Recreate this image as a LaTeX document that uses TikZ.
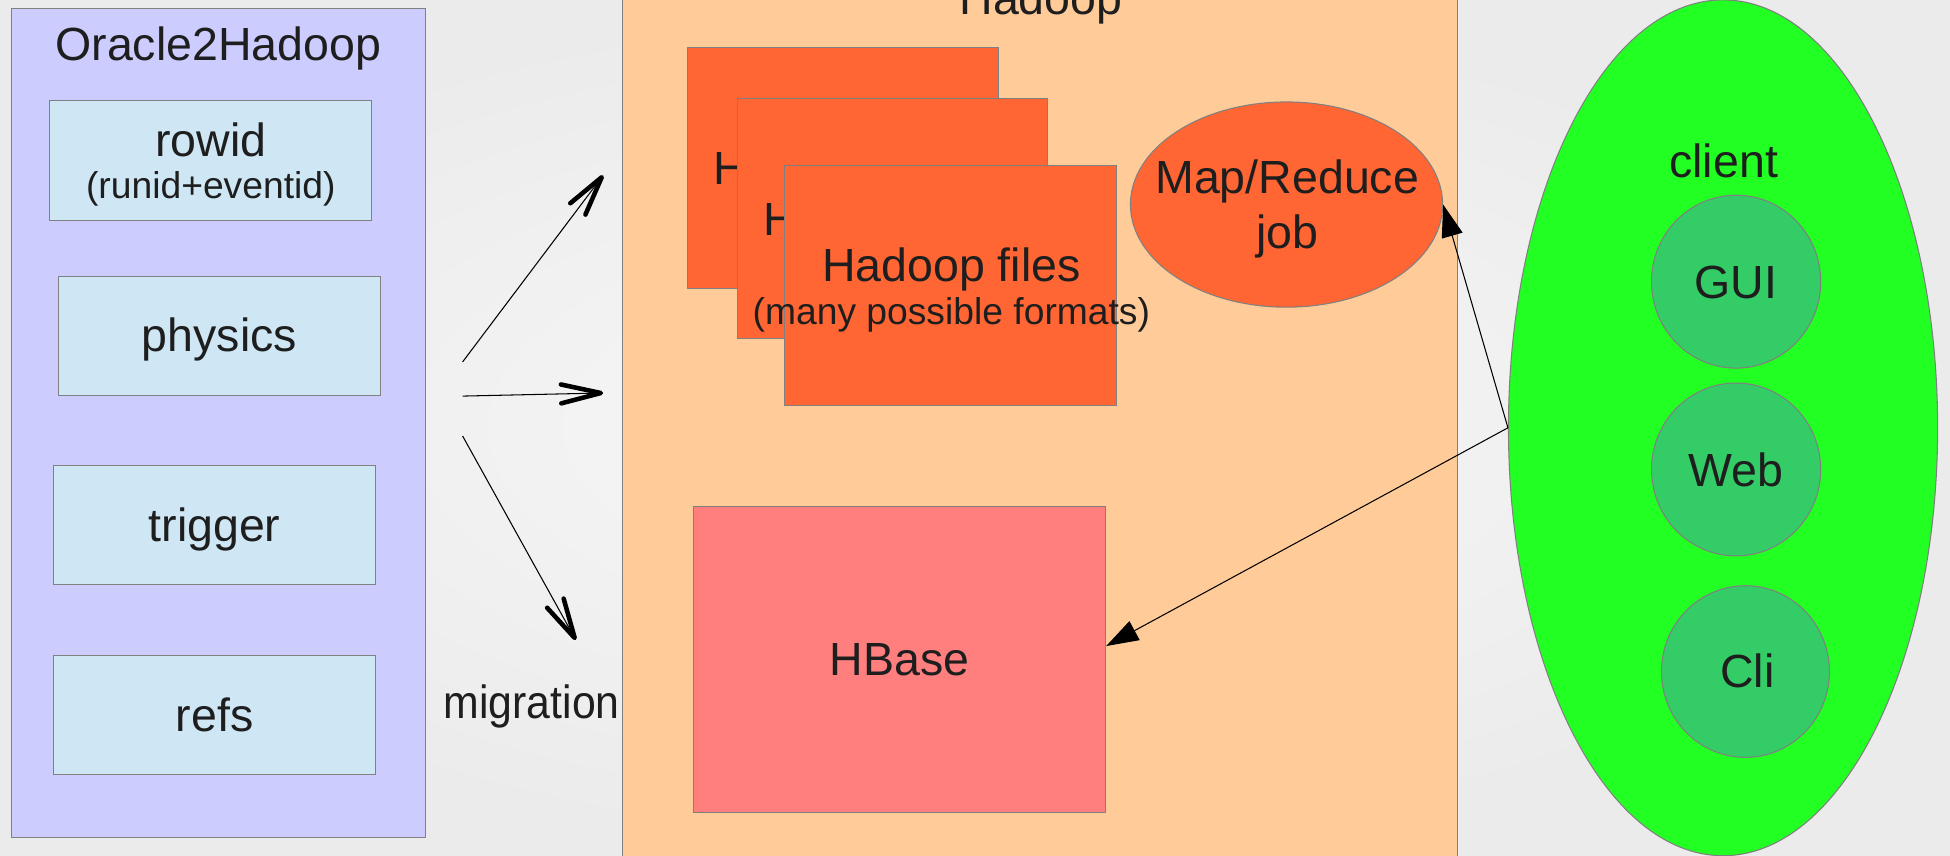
\documentclass[tikz,border=0pt]{standalone}
\usepackage{fontspec}
\setmainfont{Liberation Sans}
\usetikzlibrary{shapes.geometric,arrows.meta,calc}
\definecolor{bgc}{HTML}{F8F8F8}
\definecolor{bgo}{HTML}{EBEBEB}
\definecolor{lav}{HTML}{CCCCFF}
\definecolor{lblue}{HTML}{CFE7F5}
\definecolor{peach}{HTML}{FFCC99}
\definecolor{orng}{HTML}{FF6633}
\definecolor{hbasec}{HTML}{FF7F7F}
\definecolor{limec}{HTML}{22FF22}
\definecolor{dgreen}{HTML}{33CC66}
\definecolor{bord}{HTML}{808080}
\definecolor{txt}{HTML}{1E1E1E}
\begin{document}
\begin{tikzpicture}[x=0.025cm,y=-0.025cm,
  box/.style={draw=bord, line width=0.6pt, inner sep=0pt, rectangle},
  oval/.style={ellipse, draw=bord, line width=0.6pt, inner sep=0pt},
  big/.style={font=\fontsize{26.6}{30}\selectfont, text=txt, inner sep=0pt, anchor=base},
  small/.style={font=\fontsize{21.3}{24}\selectfont, text=txt, inner sep=0pt, anchor=base},
  mig/.style={line width=0.6pt, -{Straight Barb[length=0.8cm, width=0.38cm, line width=2.6pt, round]}},
  ptr/.style={line width=0.6pt, -{Triangle[length=0.65cm, width=0.43cm]}}]
\useasboundingbox (0,0) rectangle (1568,688);
\clip (0,0) rectangle (1568,688);
\shade[inner color=bgc, outer color=bgo] (0,0) rectangle (1568,688);

% Oracle2Hadoop
\node[box, fill=lav, minimum width=8.325cm, minimum height=16.65cm] (o2h) at (175.5,340) {};
\node[big] (o2ht) at (175.5,49) {Oracle2Hadoop};
\node[box, fill=lblue, minimum width=6.475cm, minimum height=2.4cm] (rowid) at (169.5,129) {};
\node[big] (rowidt) at (169.5,125.5) {rowid};
\node[small] (rowids) at (169.5,160) {(runid+eventid)};
\node[box, fill=lblue, minimum width=6.475cm, minimum height=2.4cm] (phys) at (176.5,270) {};
\node[big] (physt) at (176.5,283) {physics};
\node[box, fill=lblue, minimum width=6.475cm, minimum height=2.4cm] (trig) at (172.5,422) {};
\node[big] (trigt) at (172.5,435.5) {trigger};
\node[box, fill=lblue, minimum width=6.475cm, minimum height=2.4cm] (refs) at (172.5,575) {};
\node[big] (refst) at (172.5,588) {refs};

% migration
\node[big] (migt) at (427.5,577.5) {\scalebox{0.92}[1]{migration}};
\coordinate (m1a) at (372,291);
\coordinate (m1b) at (485,141);
\coordinate (m2a) at (372,318.5);
\coordinate (m2b) at (485,316);
\coordinate (m3a) at (372,350.6);
\coordinate (m3b) at (463,514.6);
\draw[mig] (m1a) -- (m1b);
\draw[mig] (m2a) -- (m2b);
\draw[mig] (m3a) -- (m3b);

% Hadoop
\node[box, fill=peach, minimum width=16.775cm, minimum height=20cm] (hadoop) at (836.5,344) {};
\node[big] (hadoopt) at (837,12) {Hadoop};
\node[box, fill=orng, minimum width=6.25cm, minimum height=4.85cm] (f1) at (678,135) {};
\node[big] (f1t) at (678,148.5) {Hadoop files};
\node[box, fill=orng, minimum width=6.225cm, minimum height=4.825cm] (f2) at (717.5,175.5) {};
\node[big] (f2t) at (717.5,189) {Hadoop files};
\node[box, fill=orng, minimum width=6.675cm, minimum height=4.825cm] (f3) at (764.5,229.5) {};
\node[big] (f3t) at (765,226) {Hadoop files};
\node[small] (f3s) at (765,261) {(many possible formats)};
\node[oval, fill=orng, minimum width=6.275cm, minimum height=4.125cm] (mr) at (1034.5,164.5) {};
\node[big] (mrt1) at (1035,156) {Map/Reduce};
\node[big] (mrt2) at (1035,199.7) {job};
\node[box, fill=hbasec, minimum width=8.275cm, minimum height=6.15cm] (hbase) at (723.5,530) {};
\node[big] (hbaset) at (723.5,543) {HBase};

% client
\node[oval, fill=limec, minimum width=8.625cm, minimum height=17.2cm] (client) at (1385.5,344) {};
\node[big] (clientt) at (1386,143) {client};
\node[oval, fill=dgreen, minimum width=3.4cm, minimum height=3.475cm] (gui) at (1396,226.5) {};
\node[big] (guit) at (1396,240) {GUI};
\node[oval, fill=dgreen, minimum width=3.4cm, minimum height=3.475cm] (web) at (1396,377.5) {};
\node[big] (webt) at (1396,391) {Web};
\node[oval, fill=dgreen, minimum width=3.375cm, minimum height=3.45cm] (cli) at (1403.5,540) {};
\node[big] (clit) at (1405,553) {Cli};

\draw[ptr] (client.west) -- (mr.east);
\draw[ptr] (client.west) -- ($(hbase.east)+(0,-10.5)$);
\end{tikzpicture}
\end{document}
